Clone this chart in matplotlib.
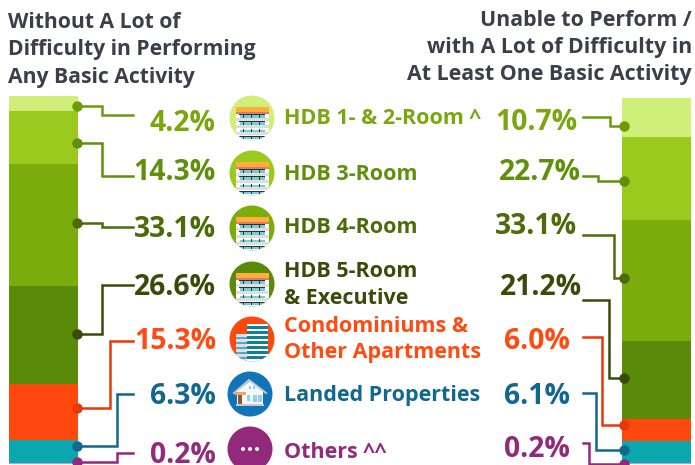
import matplotlib
matplotlib.use('Agg')
import matplotlib.pyplot as plt
from matplotlib.patches import Circle, Rectangle, Polygon

plt.rcParams['font.family'] = ['Open Sans', 'DejaVu Sans']

# Data
categories = ['HDB 1- & 2-Room ^', 'HDB 3-Room', 'HDB 4-Room', 'HDB 5-Room\n& Executive',
              'Condominiums &\nOther Apartments', 'Landed Properties', 'Others ^^']
without_difficulty = [4.2, 14.3, 33.1, 26.6, 15.3, 6.3, 0.2]
with_difficulty = [10.7, 22.7, 33.1, 21.2, 6.0, 6.1, 0.2]
bar_colors = ['#cfef78', '#9aca1e', '#7aac0c', '#5a8a0a', '#ff480e', '#0aa8ae', '#b9a2d8']
text_colors = ['#7aa60e', '#5f900a', '#4b6c08', '#3a4a0a', '#ff4a12', '#10678f', '#92297a']
dot_colors = ['#6c9a0a', '#5f900a', '#4b6c08', '#3a4a0a', '#e8380a', '#10678f', '#92297a']
icon_colors = ['#cfef78', '#9aca1e', '#7aac0c', '#5a8a0a', '#ff480e', '#1274b8', '#92297a']

# Layout, in pixels of the 695x465 picture
left_base = [131, 180, 237, 295, 349, 404, 463]
right_base = [130, 180, 234, 295, 349, 404, 457]
right_x = [577, 581, 577, 582, 570, 570, 570]
label_y = [118, 174, 227, 285, 339.5, 395, 452]
icon_xy = [(252, 118), (252, 173), (252, 228), (252, 284), (252, 339), (250, 394), (250, 449)]
left_paths = [[(77, 106), (102, 106), (102, 115.5), (133, 115.5)],
              [(77, 143), (102, 143), (102, 176), (133, 176)],
              [(77, 223), (102, 223), (102, 226.5), (133, 226.5)],
              [(77, 334), (102, 334), (102, 285), (133, 285)],
              [(77, 408), (110, 408), (110, 341), (133, 341)],
              [(77, 446), (117, 446), (117, 394), (133, 394)],
              [(77, 462), (117, 462), (117, 453), (133, 453)]]
right_paths = [[(583, 117), (610, 117), (610, 126.5), (624, 126.5)],
               [(583, 176), (598, 176), (598, 181), (624, 181)],
               [(583, 234.5), (614, 234.5), (614, 278), (624, 278)],
               [(583, 300), (609, 300), (609, 378), (624, 378)],
               [(583, 337), (602, 337), (602, 425), (624, 425)],
               [(583, 393), (596, 393), (596, 449.5), (624, 449.5)],
               [(583, 443), (589, 443), (589, 463.5), (624, 463.5)]]


def stacked(box, values):
    # box is x0, y0, x1, y1 in pixels
    ax = fig.add_axes([box[0] / 695, 1 - box[3] / 465, (box[2] - box[0]) / 695, (box[3] - box[1]) / 465])
    bottom = 0
    for v, c in zip(values, bar_colors):
        ax.bar(0, v, bottom=bottom, width=1, color=c, linewidth=0)
        bottom += v
    ax.set_xlim(-0.5, 0.5)
    ax.set_ylim(bottom, 0)
    ax.axis('off')


def rect(x, y, w, h, color, z, clip=None):
    r = Rectangle((x, y), w, h, facecolor=color, edgecolor='none', linewidth=0, zorder=z)
    canvas.add_patch(r)
    if clip is not None:
        r.set_clip_path(clip)


def building(x, y, color):
    clip = Circle((x, y), 22.5, facecolor=color, edgecolor='none', zorder=3)
    canvas.add_patch(clip)
    rect(x - 16.5, y - 11, 33, 5, '#ffb03a', 4, clip)
    rect(x - 16.5, y - 6, 33, 2, '#e8746a', 4, clip)
    rect(x - 16.5, y - 4, 33, 30, '#ffffff', 4, clip)
    for k in range(4):
        top = y - 4 + k * 7.3
        rect(x - 12.5, top + 1, 25, 2.5, '#74cfd2', 5, clip)
        rect(x - 13, top, 26, 0.8, '#263238', 6, clip)
        for dx in (-9, -1, 7):
            rect(x + dx, top, 0.8, 3.5, '#263238', 6, clip)
        rect(x - 16.5, top + 3.7, 33, 3, '#dedede', 5, clip)


def condo(x, y, color):
    clip = Circle((x, y), 22.5, facecolor=color, edgecolor='none', zorder=3)
    canvas.add_patch(clip)
    rect(x - 16, y - 5, 11, 30, '#d9e0e8', 4, clip)
    rect(x - 5, y - 15, 21, 40, '#ffffff', 5, clip)
    for k in range(7):
        rect(x - 5, y - 13 + k * 5, 21, 2.6, '#0f7f9d', 6, clip)
    for k in range(5):
        rect(x - 16, y - 2 + k * 5, 11, 2.2, '#5aa6bd', 6, clip)


def house(x, y, color):
    canvas.add_patch(Circle((x, y), 22.5, facecolor=color, edgecolor='none', zorder=3))
    canvas.add_patch(Polygon([(x - 13, y - 3), (x, y - 13), (x + 13, y - 3), (x + 13, y + 10), (x - 13, y + 10)],
                             facecolor='#f5f8fb', edgecolor='none', zorder=4))
    canvas.plot([x - 16, x - 1, x + 16], [y - 1, y - 14, y - 1], color='#c9c9c9', lw=1.4, zorder=5)
    rect(x - 15, y - 2, 11, 2.5, '#f2a46a', 5)
    rect(x - 12, y + 1, 4, 9, '#8a5a34', 5)
    rect(x - 14, y + 10, 28, 2, '#c8c8c8', 5)
    for wx, wy, w, h in [(-3, 1, 3, 6), (3, 1, 4, 7), (8, 1, 4, 7), (-1, -8, 2, 3), (3, -8, 2, 3)]:
        rect(x + wx, y + wy, w, h, '#8fcdf5', 5)


def dots(x, y, color):
    canvas.add_patch(Circle((x, y), 22.5, facecolor=color, edgecolor='none', zorder=3))
    for dx in (-7, 0, 7):
        canvas.add_patch(Circle((x + dx, y), 2, facecolor='#ffffff', edgecolor='none', zorder=4))


fig = plt.figure(figsize=(6.95, 4.65), dpi=100)
stacked((9, 96, 78, 464), without_difficulty)
stacked((622, 98, 691, 464), with_difficulty)

canvas = fig.add_axes([0, 0, 1, 1], facecolor='none')
canvas.set_xlim(0, 695)
canvas.set_ylim(465, 0)
canvas.axis('off')

# Titles
canvas.text(8, 50, 'Without A Lot of\nDifficulty in Performing\nAny Basic Activity', color='#3b3f4a',
            fontsize=15.2, fontweight='bold', va='center', ha='left', linespacing=1.38)
canvas.text(692, 47.5, 'Unable to Perform /\nwith A Lot of Difficulty in\nAt Least One Basic Activity', color='#3b3f4a',
            fontsize=15.4, fontweight='bold', va='center', ha='right', multialignment='right', linespacing=1.35)

# Connectors with a dot on the bar end
for i in range(7):
    xs, ys = zip(*left_paths[i])
    canvas.plot(xs, ys, color=dot_colors[i], lw=1.8, solid_joinstyle='miter', zorder=2)
    canvas.plot(xs[0], ys[0], 'o', color=dot_colors[i], ms=7.5, mew=0, zorder=3)
    xs, ys = zip(*right_paths[i])
    canvas.plot(xs, ys, color=dot_colors[i], lw=1.8, solid_joinstyle='miter', zorder=2)
    canvas.plot(xs[-1], ys[-1], 'o', color=dot_colors[i], ms=7.5, mew=0, zorder=3)

# Percent labels
for i in range(7):
    canvas.text(216, left_base[i], f'{without_difficulty[i]:.1f}%', color=text_colors[i], fontsize=20.3,
                fontweight='bold', ha='right', va='baseline')
    canvas.text(right_x[i], right_base[i], f'{with_difficulty[i]:.1f}%', color=text_colors[i], fontsize=20.3,
                fontweight='bold', ha='right', va='baseline')

# Icons
for i in range(4):
    building(icon_xy[i][0], icon_xy[i][1], icon_colors[i])
condo(icon_xy[4][0], icon_xy[4][1], icon_colors[4])
house(icon_xy[5][0], icon_xy[5][1], icon_colors[5])
dots(icon_xy[6][0], icon_xy[6][1], icon_colors[6])

# Category labels
for i in range(7):
    canvas.text(284, label_y[i], categories[i], color=text_colors[i], fontsize=15.5, fontweight='bold',
                ha='left', va='center', linespacing=1.32)

fig.savefig('out.png', dpi=100)
